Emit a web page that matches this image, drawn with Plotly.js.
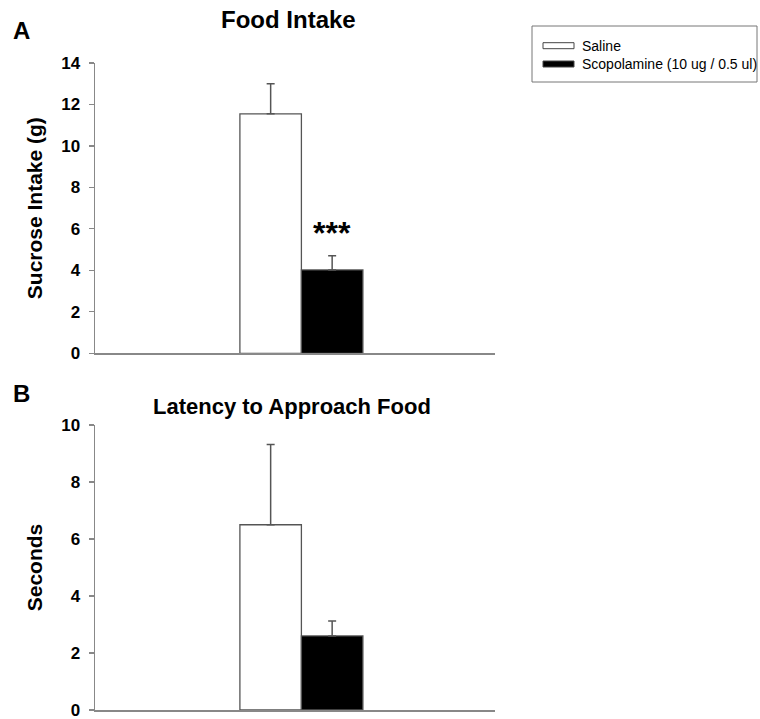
<!DOCTYPE html>
<html>
<head>
<meta charset="utf-8">
<script src="https://cdn.plot.ly/plotly-3.0.1.min.js"></script>
<style>html,body{margin:0;padding:0;background:#fff;}</style>
</head>
<body>
<div id="chart" style="width:760px;height:719px;"></div>
<script>
// ---- data ----
const groups = ["Saline", "Scopolamine (10 ug / 0.5 ul)"];
const panelA = "Food Intake";
const panelB = "Latency to Approach Food";
const intakeMean = [11.55, 4.02];
const intakeSem  = [1.45, 0.68];
const latencyMean = [6.5, 2.6];
const latencySem  = [2.82, 0.52];
const yTitleA = "Sucrose Intake (g)";
const yTitleB = "Seconds";
const sigMark = "***";

const fills = ["#ffffff", "#000000"];
const FONT = "Arial, 'Liberation Sans', sans-serif";

// page geometry helpers (pixel -> paper)
const M = {l: 95, r: 265, t: 63, b: 9};
const W = 760, H = 719;
const PW = W - M.l - M.r, PH = H - M.t - M.b;
const px = v => (v - M.l) / PW;
const py = v => (H - M.b - v) / PH;

const traces = [];
groups.forEach((g, i) => {
  traces.push({
    type: "bar", name: g, x: [panelA], y: [intakeMean[i]],
    xaxis: "x", yaxis: "y", showlegend: false,
    marker: {color: fills[i], line: {color: "#555", width: 1.3}},
    error_y: {type: "data", symmetric: false, array: [intakeSem[i]], arrayminus: [0],
              color: "#555", thickness: 1.5, width: 4},
    hoverinfo: "skip"
  });
  traces.push({
    type: "bar", name: g, x: [panelB], y: [latencyMean[i]],
    xaxis: "x2", yaxis: "y2", showlegend: false,
    marker: {color: fills[i], line: {color: "#555", width: 1.3}},
    error_y: {type: "data", symmetric: false, array: [latencySem[i]], arrayminus: [0],
              color: "#555", thickness: 1.5, width: 4},
    hoverinfo: "skip"
  });
});

const xCommon = {
  range: [-0.516, 0.484], showticklabels: false, ticks: "", showgrid: false,
  zeroline: false, showline: true, linecolor: "#888", linewidth: 1.5, fixedrange: true
};
const yCommon = {
  dtick: 2, ticks: "outside", ticklen: 5, tickcolor: "#888", tickwidth: 1.2,
  showline: true, linecolor: "#888", linewidth: 1.5, showgrid: false, zeroline: false,
  tickfont: {family: FONT, size: 17, color: "#000", weight: "bold"},
  ticklabelstandoff: 5, ticklabeloverflow: "allow", fixedrange: true
};
const titleFont = {family: FONT, size: 21, color: "#000", weight: "bold"};

// custom legend (box, swatches, labels)
const legendShapes = [
  {type: "rect", xref: "paper", yref: "paper", x0: px(532), x1: px(757), y0: py(82), y1: py(26),
   line: {color: "#777", width: 1}, fillcolor: "rgba(0,0,0,0)"}
];
const legendAnn = [];
const legendRows = [45.7, 64];
groups.forEach((g, i) => {
  const cy = legendRows[i];
  legendShapes.push({type: "rect", xref: "paper", yref: "paper",
    x0: px(543), x1: px(574), y0: py(cy + 3), y1: py(cy - 3),
    line: {color: "#444", width: 1}, fillcolor: fills[i]});
  legendAnn.push({text: g, xref: "paper", yref: "paper", x: px(580), y: py(cy),
    xanchor: "left", yanchor: "middle", showarrow: false,
    font: {family: FONT, size: 14, color: "#000"}});
});

const layout = {
  width: W, height: H,
  margin: M,
  paper_bgcolor: "#ffffff", plot_bgcolor: "#ffffff",
  barmode: "group", bargap: 0.6925, bargroupgap: 0,
  showlegend: false,
  xaxis: Object.assign({}, xCommon, {domain: [0, 1], anchor: "y"}),
  xaxis2: Object.assign({}, xCommon, {domain: [0, 1], anchor: "y2"}),
  yaxis: Object.assign({}, yCommon, {domain: [py(353.3), 1], range: [0, 14], anchor: "x",
    title: {text: yTitleA, font: titleFont, standoff: 13}}),
  yaxis2: Object.assign({}, yCommon, {domain: [0, py(425)], range: [0, 10], anchor: "x2",
    title: {text: yTitleB, font: titleFont, standoff: 13}}),
  shapes: legendShapes,
  annotations: [
    {text: panelA, xref: "paper", yref: "paper", x: px(288), y: py(20), showarrow: false,
     xanchor: "center", yanchor: "middle", font: {family: FONT, size: 24, color: "#000", weight: "bold"}},
    {text: panelB, xref: "paper", yref: "paper", x: px(291.5), y: py(406), showarrow: false,
     xanchor: "center", yanchor: "middle", font: {family: FONT, size: 22, color: "#000", weight: "bold"}},
    {text: "A", xref: "paper", yref: "paper", x: px(21), y: py(30), showarrow: false,
     xanchor: "center", yanchor: "middle", font: {family: FONT, size: 24, color: "#000", weight: "bold"}},
    {text: "B", xref: "paper", yref: "paper", x: px(21), y: py(393), showarrow: false,
     xanchor: "center", yanchor: "middle", font: {family: FONT, size: 24, color: "#000", weight: "bold"}},
    {text: sigMark, xref: "x", yref: "y", x: panelA, xshift: 31,
     y: intakeMean[1] + intakeSem[1] + 1.1, showarrow: false,
     xanchor: "center", yanchor: "middle", font: {family: FONT, size: 32, color: "#000", weight: "bold"}}
  ].concat(legendAnn)
};

Plotly.newPlot("chart", traces, layout, {staticPlot: true, displayModeBar: false});
</script>
</body>
</html>
